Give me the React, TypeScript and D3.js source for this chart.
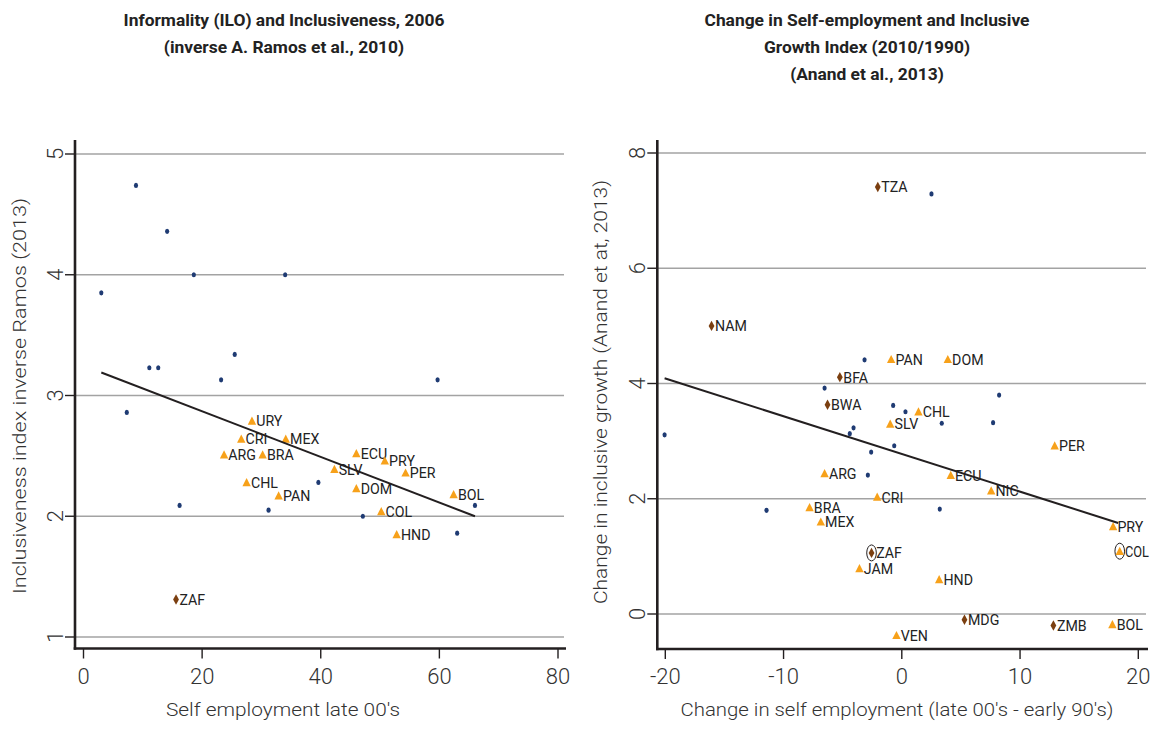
import React from "react";
import * as d3 from "d3";

const W = 1151;
const H = 749;

// ---------- Left panel data ----------
const leftTitle = ["Informality (ILO) and Inclusiveness, 2006", "(inverse A. Ramos et al., 2010)"];
const leftXLabel = "Self employment late 00's";
const leftYLabel = "Inclusiveness index inverse Ramos (2013)";
const leftXTicks = [0, 20, 40, 60, 80];
const leftXTickLabels = ["0", "20", "40", "60", "80"];
const leftYTicks = [1, 2, 3, 4, 5];
const leftYTickLabels = ["1", "2", "3", "4", "5"];

const leftOtherX = [3.0, 8.85, 7.3, 11.1, 12.6, 14.1, 18.6, 23.2, 25.5, 34.0, 59.7, 16.2, 31.2, 39.6, 47.1, 66.0, 63.0];
const leftOtherY = [3.85, 4.74, 2.86, 3.23, 3.23, 4.36, 4.0, 3.13, 3.34, 4.0, 3.13, 2.09, 2.05, 2.28, 2.0, 2.09, 1.86];

const leftLatamCodes = ["URY", "CRI", "ARG", "BRA", "CHL", "PAN", "MEX", "ECU", "PRY", "SLV", "PER", "DOM", "BOL", "COL", "HND"];
const leftLatamX = [28.4, 26.6, 23.7, 30.2, 27.5, 32.9, 34.1, 46.0, 50.8, 42.3, 54.3, 46.0, 62.4, 50.2, 52.8];
const leftLatamY = [2.79, 2.64, 2.51, 2.51, 2.28, 2.17, 2.64, 2.52, 2.46, 2.39, 2.36, 2.23, 2.18, 2.04, 1.85];

const leftAfricaCodes = ["ZAF"];
const leftAfricaX = [15.6];
const leftAfricaY = [1.31];

const leftFitX = [3.0, 66.0];
const leftFitY = [3.19, 2.0];
const leftCircled: string[] = [];

// ---------- Right panel data ----------
const rightTitle = ["Change in Self-employment and Inclusive", "Growth Index (2010/1990)", "(Anand et al., 2013)"];
const rightXLabel = "Change in self employment (late 00's - early 90's)";
const rightYLabel = "Change in inclusive growth (Anand et at, 2013)";
const rightXTicks = [-20, -10, 0, 10, 20];
const rightXTickLabels = ["-20", "-10", "0", "10", "20"];
const rightYTicks = [0, 2, 4, 6, 8];
const rightYTickLabels = ["0", "2", "4", "6", "8"];

const rightOtherX = [-3.15, -6.53, -4.08, 2.51, 8.23, -0.73, 0.31, 3.38, 7.72, -20.06, -4.4, -2.59, -2.87, -11.44, -0.64, 3.21];
const rightOtherY = [4.41, 3.92, 3.23, 7.29, 3.8, 3.62, 3.51, 3.31, 3.32, 3.11, 3.13, 2.81, 2.41, 1.8, 2.92, 1.82];

const rightLatamCodes = ["PAN", "DOM", "CHL", "SLV", "ARG", "BRA", "MEX", "JAM", "PER", "ECU", "NIC", "CRI", "PRY", "COL", "HND", "VEN", "BOL"];
const rightLatamX = [-0.9, 3.89, 1.41, -0.98, -6.53, -7.8, -6.85, -3.58, 12.93, 4.14, 7.56, -2.08, 17.87, 18.43, 3.16, -0.45, 17.81];
const rightLatamY = [4.42, 4.42, 3.51, 3.3, 2.44, 1.85, 1.6, 0.79, 2.92, 2.41, 2.14, 2.03, 1.52, 1.09, 0.6, -0.37, -0.18];

const rightAfricaCodes = ["TZA", "NAM", "BFA", "BWA", "ZAF", "MDG", "ZMB"];
const rightAfricaX = [-2.03, -16.09, -5.24, -6.28, -2.56, 5.3, 12.82];
const rightAfricaY = [7.41, 5.0, 4.11, 3.63, 1.06, -0.1, -0.2];

const rightFitX = [-20.06, 18.3];
const rightFitY = [4.09, 1.58];
const rightCircled = ["ZAF", "COL"];

// ---------- Styles ----------
const FONT = "Roboto, 'DejaVu Sans', sans-serif";
const NAVY = "#1f3b73";
const ORANGE = "#f7a11a";
const BROWN = "#7b3f10";
const GRID = "#a3a3a3";
const AXIS = "#231f20";
const TEXT = "#222";

type PanelProps = {
  frame: { left: number; right: number; top: number; bottom: number };
  xDomain: [number, number];
  xRange: [number, number];
  yDomain: [number, number];
  yRange: [number, number];
  xTicks: number[];
  xTickLabels: string[];
  yTicks: number[];
  yTickLabels: string[];
  otherX: number[];
  otherY: number[];
  latamCodes: string[];
  latamX: number[];
  latamY: number[];
  africaCodes: string[];
  africaX: number[];
  africaY: number[];
  fitX: number[];
  fitY: number[];
  circled: string[];
  title: string[];
  titleX: number;
  xLabel: string;
  xLabelX: number;
  xLabelLen: number;
  yLabel: string;
  yLabelX: number;
  yLabelY: number;
  yLabelLen: number;
};

function PointLabel({ x, y, text }: { x: number; y: number; text: string }) {
  const room = W - 2 - x;
  const natural = text.length * 9.2;
  const squeeze = natural > room;
  return (
    <text
      x={x}
      y={y}
      fontFamily={FONT}
      fontSize={14.2}
      textLength={squeeze ? room : undefined}
      lengthAdjust={squeeze ? "spacingAndGlyphs" : undefined}
      fill={TEXT}
    >
      {text}
    </text>
  );
}

function Panel(p: PanelProps) {
  const x = d3.scaleLinear().domain(p.xDomain).range(p.xRange);
  const y = d3.scaleLinear().domain(p.yDomain).range(p.yRange);
  const { left, right, top, bottom } = p.frame;
  const line = d3
    .line<number>()
    .x((d) => x(p.fitX[d]))
    .y((d) => y(p.fitY[d]));

  const tri = (cx: number, cy: number) =>
    `M${cx - 4.2},${cy + 3.8}L${cx + 4.2},${cy + 3.8}L${cx},${cy - 4.4}Z`;
  const dia = (cx: number, cy: number) =>
    `M${cx},${cy - 5.2}L${cx + 2.9},${cy}L${cx},${cy + 5.2}L${cx - 2.9},${cy}Z`;

  return (
    <g>
      {p.title.map((t, i) => (
        <text
          key={"t" + i}
          x={p.titleX}
          y={26 + i * 27}
          textAnchor="middle"
          fontFamily={FONT}
          fontWeight={700}
          fontSize={17.4}
          fill={TEXT}
        >
          {t}
        </text>
      ))}
      {/* gridlines */}
      {p.yTicks.map((t) => (
        <line key={"g" + t} x1={left} x2={right - 2} y1={y(t)} y2={y(t)} stroke={GRID} strokeWidth={1.4} />
      ))}
      {/* y ticks */}
      {p.yTicks.map((t, i) => (
        <g key={"yt" + t}>
          <line x1={left - 10} x2={left} y1={y(t)} y2={y(t)} stroke={AXIS} strokeWidth={1.4} />
          <text
            transform={`translate(${left - 12},${y(t)}) rotate(-90)`}
            textAnchor="middle"
            fontFamily={FONT}
            fontWeight={300}
            fontSize={22}
            fill="#333"
          >
            {p.yTickLabels[i]}
          </text>
        </g>
      ))}
      {/* x ticks */}
      {p.xTicks.map((t, i) => (
        <g key={"xt" + t}>
          <line x1={x(t)} x2={x(t)} y1={bottom} y2={bottom + 10} stroke={AXIS} strokeWidth={1.4} />
          <text
            x={x(t)}
            y={bottom + 35}
            textAnchor="middle"
            fontFamily={FONT}
            fontWeight={300}
            fontSize={22}
            fill="#333"
          >
            {p.xTickLabels[i]}
          </text>
        </g>
      ))}
      {/* other countries */}
      {p.otherX.map((vx, i) => (
        <ellipse key={"o" + i} cx={x(vx)} cy={y(p.otherY[i])} rx={2.1} ry={2.6} fill={NAVY} />
      ))}
      {/* Latin America */}
      {p.latamCodes.map((c, i) => (
        <g key={"l" + c}>
          {p.circled.includes(c) && (
            <ellipse cx={x(p.latamX[i])} cy={y(p.latamY[i])} rx={4.8} ry={8} fill="none" stroke={AXIS} strokeWidth={1} />
          )}
          <path d={tri(x(p.latamX[i]), y(p.latamY[i]))} fill={ORANGE} />
          <PointLabel
            x={x(p.latamX[i]) + 4.3 + (p.circled.includes(c) ? 1 : 0)}
            y={y(p.latamY[i]) + 5.5}
            text={c}
          />
        </g>
      ))}
      {/* Africa */}
      {p.africaCodes.map((c, i) => (
        <g key={"a" + c}>
          {p.circled.includes(c) && (
            <ellipse cx={x(p.africaX[i])} cy={y(p.africaY[i])} rx={4.8} ry={8} fill="none" stroke={AXIS} strokeWidth={1} />
          )}
          <path d={dia(x(p.africaX[i]), y(p.africaY[i]))} fill={BROWN} />
          <PointLabel
            x={x(p.africaX[i]) + 3.5 + (p.circled.includes(c) ? 1.2 : 0)}
            y={y(p.africaY[i]) + 5.5}
            text={c}
          />
        </g>
      ))}
      {/* fit line */}
      <path d={line(d3.range(p.fitX.length)) || ""} fill="none" stroke={AXIS} strokeWidth={2} />
      {/* axes */}
      <line x1={left} x2={left} y1={top} y2={bottom + 1.2} stroke={AXIS} strokeWidth={2.6} />
      <line x1={left - 1.3} x2={right} y1={bottom} y2={bottom} stroke={AXIS} strokeWidth={2.6} />
      {/* axis titles */}
      <text
        x={p.xLabelX}
        y={716}
        textAnchor="middle"
        fontFamily={FONT}
        fontWeight={300}
        fontSize={19}
        textLength={p.xLabelLen}
        lengthAdjust="spacingAndGlyphs"
        fill="#333"
      >
        {p.xLabel}
      </text>
      <text
        transform={`translate(${p.yLabelX},${p.yLabelY}) rotate(-90)`}
        textAnchor="middle"
        fontFamily={FONT}
        fontWeight={300}
        fontSize={19}
        textLength={p.yLabelLen}
        lengthAdjust="spacingAndGlyphs"
        fill="#333"
      >
        {p.yLabel}
      </text>
    </g>
  );
}

export default function App() {
  return (
    <svg width={W} height={H} style={{ position: "absolute", left: 0, top: 0, background: "#fff" }}>
      <rect x={0} y={0} width={W} height={H} fill="#fff" />
      <Panel
        frame={{ left: 75, right: 566, top: 140, bottom: 648.5 }}
        xDomain={[0, 80]}
        xRange={[83.5, 558]}
        yDomain={[1, 5]}
        yRange={[637, 154]}
        xTicks={leftXTicks}
        xTickLabels={leftXTickLabels}
        yTicks={leftYTicks}
        yTickLabels={leftYTickLabels}
        otherX={leftOtherX}
        otherY={leftOtherY}
        latamCodes={leftLatamCodes}
        latamX={leftLatamX}
        latamY={leftLatamY}
        africaCodes={leftAfricaCodes}
        africaX={leftAfricaX}
        africaY={leftAfricaY}
        fitX={leftFitX}
        fitY={leftFitY}
        circled={leftCircled}
        title={leftTitle}
        titleX={284}
        xLabel={leftXLabel}
        xLabelX={283}
        xLabelLen={234}
        yLabel={leftYLabel}
        yLabelX={26}
        yLabelY={396}
        yLabelLen={396}
      />
      <Panel
        frame={{ left: 657.3, right: 1148, top: 140, bottom: 649 }}
        xDomain={[-20, 20]}
        xRange={[665.3, 1138.3]}
        yDomain={[0, 8]}
        yRange={[614, 153]}
        xTicks={rightXTicks}
        xTickLabels={rightXTickLabels}
        yTicks={rightYTicks}
        yTickLabels={rightYTickLabels}
        otherX={rightOtherX}
        otherY={rightOtherY}
        latamCodes={rightLatamCodes}
        latamX={rightLatamX}
        latamY={rightLatamY}
        africaCodes={rightAfricaCodes}
        africaX={rightAfricaX}
        africaY={rightAfricaY}
        fitX={rightFitX}
        fitY={rightFitY}
        circled={rightCircled}
        title={rightTitle}
        titleX={867}
        xLabel={rightXLabel}
        xLabelX={897}
        xLabelLen={433}
        yLabel={rightYLabel}
        yLabelX={607}
        yLabelY={392}
        yLabelLen={424}
      />
    </svg>
  );
}
